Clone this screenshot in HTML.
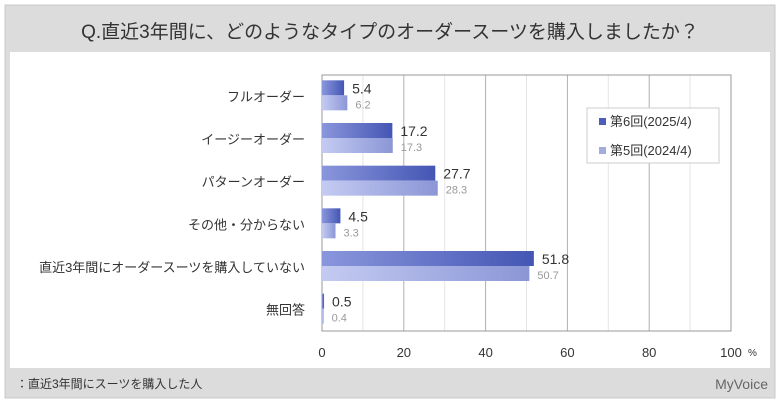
<!DOCTYPE html>
<html><head><meta charset="utf-8"><style>
body{margin:0;width:780px;height:405px;background:#fff;font-family:"Liberation Sans","Noto Sans CJK JP",sans-serif;overflow:hidden}
</style></head><body>
<svg width="780" height="405" xmlns="http://www.w3.org/2000/svg">
<defs>
<linearGradient id="gd" x1="0" x2="1"><stop offset="0" stop-color="#8a96dc"/><stop offset="1" stop-color="#4456b4"/></linearGradient>
<linearGradient id="gl" x1="0" x2="1"><stop offset="0" stop-color="#c4cbf2"/><stop offset="1" stop-color="#8b96d6"/></linearGradient>
</defs>
<rect x="5" y="5" width="770" height="393" fill="#dcdcdc" stroke="#c8c8c8"/>
<text x="390" y="38" font-size="19" text-anchor="middle" fill="#333">Q.直近3年間に、どのようなタイプのオーダースーツを購入しましたか？</text>
<rect x="10" y="52" width="760" height="316" fill="#fff"/>
<g id="grid"></g>
<g id="bars"></g>
<g id="labels"></g>
<rect x="587" y="108" width="132" height="55" fill="#fff" stroke="#ccc"/>
<rect x="599" y="118" width="7" height="7" fill="#4d5eb8"/>
<text x="610" y="126" font-size="13" fill="#333">第6回(2025/4)</text>
<rect x="599" y="147" width="7" height="7" fill="#a3acdf"/>
<text x="610" y="155" font-size="13" fill="#333">第5回(2024/4)</text>
<text x="16" y="388" font-size="12" fill="#333">：直近3年間にスーツを購入した人</text>
<text x="768" y="389" font-size="14" fill="#666" text-anchor="end">MyVoice</text>
</svg>
<script>
const categories=["フルオーダー","イージーオーダー","パターンオーダー","その他・分からない","直近3年間にオーダースーツを購入していない","無回答"];
const series6=[5.4,17.2,27.7,4.5,51.8,0.5];
const series5=[6.2,17.3,28.3,3.3,50.7,0.4];
const ticks=[0,20,40,60,80,100];
const NS="http://www.w3.org/2000/svg";
const X0=322,X1=731,Y0=75,Y1=331;
const x=v=>X0+(X1-X0)*v/100;
const band=(Y1-Y0)/categories.length;
function mk(t,a,p,txt){const e=document.createElementNS(NS,t);for(const k in a)e.setAttribute(k,a[k]);if(txt!==undefined)e.textContent=txt;p.appendChild(e);return e;}
const g=document.getElementById('grid'),b=document.getElementById('bars'),l=document.getElementById('labels');
for(let v=10;v<100;v+=10){const ln=mk('line',{x1:x(v),x2:x(v),y1:Y0,y2:Y1,stroke:v%20?'#e4e4e4':'#b0b0b0'},g);

}
const ax=mk('rect',{x:X0,y:Y0,width:X1-X0,height:Y1-Y0,fill:'none',stroke:'#999'},g);


ticks.forEach(t=>{const e=mk('text',{x:x(t),y:357,'font-size':13,'text-anchor':'middle',fill:'#333'},l,String(t));

});
const pc=mk('text',{x:748,y:356,'font-size':10,fill:'#333'},l,'%');


categories.forEach((c,i)=>{const yc=Y0+band*i+band/2;
const cl=mk('text',{x:305,y:yc+5,'font-size':13,'text-anchor':'end',fill:'#333'},l,c);


const r1=mk('rect',{x:X0,y:yc-16,width:x(series6[i])-X0,height:15,fill:'url(#gd)'},b);


const r2=mk('rect',{x:X0,y:yc-1,width:x(series5[i])-X0,height:15,fill:'url(#gl)'},b);


const v1=mk('text',{x:x(series6[i])+8,y:yc-3,'font-size':14,fill:'#333'},l,series6[i].toFixed(1));


const v2=mk('text',{x:x(series5[i])+8,y:yc+12,'font-size':11,fill:'#999'},l,series5[i].toFixed(1));


});
</script>
</body></html>
